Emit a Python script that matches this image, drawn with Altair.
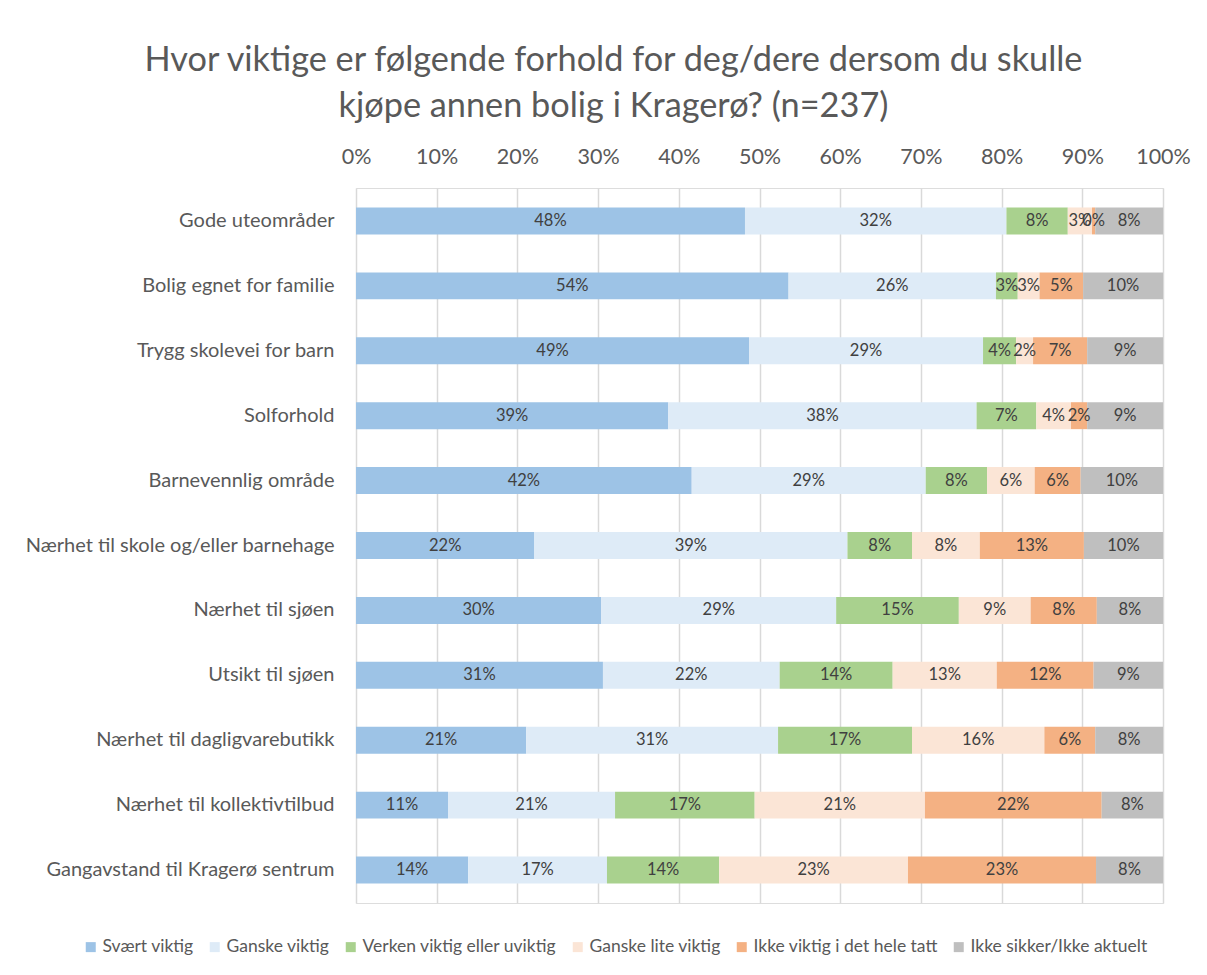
import altair as alt
import pandas as pd

categories = [
    "Gode uteområder",
    "Bolig egnet for familie",
    "Trygg skolevei for barn",
    "Solforhold",
    "Barnevennlig område",
    "Nærhet til skole og/eller barnehage",
    "Nærhet til sjøen",
    "Utsikt til sjøen",
    "Nærhet til dagligvarebutikk",
    "Nærhet til kollektivtilbud",
    "Gangavstand til Kragerø sentrum",
]
series = [
    "Svært viktig",
    "Ganske viktig",
    "Verken viktig eller uviktig",
    "Ganske lite viktig",
    "Ikke viktig i det hele tatt",
    "Ikke sikker/Ikke aktuelt",
]
svaert_viktig = [48.2, 53.6, 48.7, 38.7, 41.6, 22.1, 30.4, 30.6, 21.1, 11.4, 13.9]
ganske_viktig = [32.4, 25.7, 29.0, 38.2, 29.0, 38.8, 29.1, 21.9, 31.2, 20.7, 17.2]
verken = [7.6, 2.7, 4.1, 7.4, 7.6, 8.0, 15.2, 14.0, 16.6, 17.3, 13.9]
ganske_lite = [3.0, 2.7, 2.1, 4.3, 5.9, 8.4, 8.9, 12.9, 16.4, 21.1, 23.4]
ikke_viktig = [0.4, 5.4, 6.7, 2.0, 5.7, 12.9, 8.2, 12.0, 6.3, 21.9, 23.3]
ikke_sikker = [8.4, 9.9, 9.4, 9.4, 10.2, 9.8, 8.2, 8.6, 8.4, 7.6, 8.3]
colors = ["#9dc3e6", "#deebf7", "#a9d18e", "#fbe5d6", "#f4b183", "#bfbfbf"]
x_ticks = [0, 10, 20, 30, 40, 50, 60, 70, 80, 90, 100]

all_series = [svaert_viktig, ganske_viktig, verken, ganske_lite, ikke_viktig, ikke_sikker]
rows = []
for si, (name, vals) in enumerate(zip(series, all_series)):
    for ci, cat in enumerate(categories):
        rows.append({"category": cat, "series": name, "order": si, "value": vals[ci]})
df = pd.DataFrame(rows)

FONT = "Lato"
GREY = "#595959"

base = (
    alt.Chart(df)
    .transform_stack(
        stack="value",
        groupby=["category"],
        as_=["x0", "x1"],
        sort=[alt.SortField("order", order="ascending")],
    )
    .transform_calculate(
        mid="(datum.x0 + datum.x1) / 2",
        label="format(datum.value, '.0f') + '%'",
    )
)

y_enc = alt.Y(
    "category:N",
    sort=categories,
    title=None,
    scale=alt.Scale(paddingInner=0.585, paddingOuter=0.3),
    axis=alt.Axis(
        labelFont=FONT,
        labelFontSize=20,
        labelColor=GREY,
        labelPadding=22,
        ticks=False,
        domain=False,
        labelLimit=400,
    ),
)

bars = base.mark_bar().encode(
    x=alt.X(
        "x0:Q",
        title=None,
        scale=alt.Scale(domain=[0, 100], nice=False),
        axis=alt.Axis(
            orient="top",
            values=x_ticks,
            labelExpr="datum.value + '%'",
            labelFont=FONT,
            labelFontSize=21.5,
            labelColor=GREY,
            labelPadding=20,
            labelFlush=False,
            labelOverlap=False,
            ticks=False,
            domain=False,
            grid=True,
            gridColor="#d9d9d9",
            gridWidth=1.5,
        ),
    ),
    x2="x1:Q",
    y=y_enc,
    color=alt.Color(
        "series:N",
        sort=series,
        scale=alt.Scale(domain=series, range=colors),
        legend=alt.Legend(
            title=None,
            orient="none",
            legendX=-274,
            legendY=750,
            direction="horizontal",
            columns=6,
            symbolType="square",
            symbolSize=100,
            symbolStrokeWidth=0,
            labelFont=FONT,
            labelFontSize=17.5,
            labelColor=GREY,
            labelOffset=3,
            columnPadding=12,
            labelLimit=300,
        ),
    ),
)

texts = base.mark_text(
    font=FONT, fontSize=16.5, color="#404040", baseline="middle", align="center"
).encode(
    x=alt.X("mid:Q"),
    y=alt.Y("category:N", sort=categories),
    text="label:N",
)

chart = (
    alt.layer(bars, texts)
    .properties(
        width=807,
        height=715,
        padding={"left": 348, "top": 180, "right": 30, "bottom": 60},
        autosize=alt.AutoSizeParams(type="none"),
        title=alt.TitleParams(
            text=[
                "Hvor viktige er følgende forhold for deg/dere dersom du skulle",
                "kjøpe annen bolig i Kragerø? (n=237)",
            ],
            font=FONT,
            fontSize=34.3,
            fontWeight="normal",
            color=GREY,
            anchor="middle",
            frame="group",
            dx=-146,
            offset=22,
            lineHeight=46,
        ),
    )
    .configure_view(stroke=None)
    .configure(background="white")
)

chart.save("out.html", embed_options={"renderer": "svg", "actions": False})
